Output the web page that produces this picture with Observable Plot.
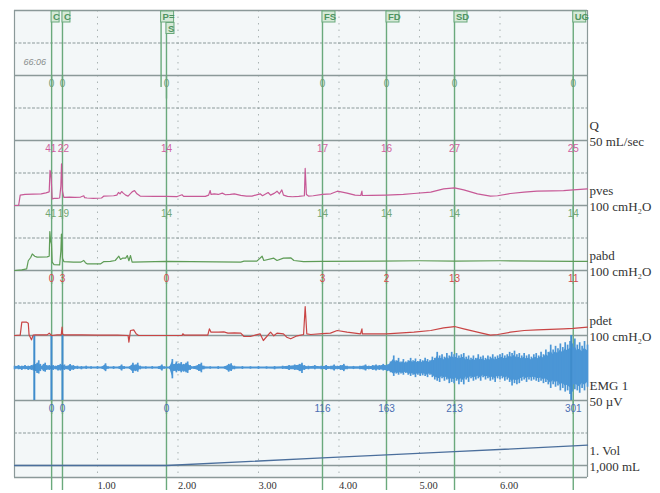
<!DOCTYPE html>
<html><head><meta charset="utf-8">
<script src="https://cdn.jsdelivr.net/npm/d3@7"></script>
<script src="https://cdn.jsdelivr.net/npm/@observablehq/plot@0.6"></script>
<style>body{margin:0;background:#fff} #chart{width:660px;height:493px}</style>
</head><body><div id="chart"></div>
<script>
// ---- event markers ----
const eventNames = ["C", "C", "P=", "S", "FS", "FD", "SD", "UG"];
const eventTimes = [0.43, 0.565, 1.79, 1.857, 3.795, 4.59, 5.435, 6.91];
const markerTimes = [0.43, 0.565, 1.857, 3.795, 4.59, 5.435, 6.91];
const qMarks    = [0, 0, 0, 0, 0, 0, 0];
const pvesMarks = [41, 22, 14, 17, 16, 27, 25];
const pabdMarks = [41, 19, 14, 14, 14, 14, 14];
const pdetMarks = [0, 3, 0, 3, 2, 13, 11];
const volMarks  = [0, 0, 0, 116, 163, 213, 301];
const xTicks = [1, 2, 3, 4, 5, 6];
const clockText = "66:06";

// ---- traces (time in min) ----
const pvesT = [-0.03,0.02,0.04,0.10,0.20,0.30,0.36,0.40,0.41,0.418,0.425,0.437,0.46,0.50,0.53,0.545,0.553,0.565,0.582,0.65,0.72,0.79,0.83,0.84,0.87,0.95,1.05,1.08,1.20,1.24,1.26,1.28,1.30,1.32,1.35,1.38,1.43,1.46,1.49,1.53,1.70,1.857,1.99,2.05,2.07,2.34,2.38,2.40,2.41,2.45,2.50,2.55,2.59,2.65,2.70,2.78,2.85,2.92,3.02,3.05,3.12,3.15,3.20,3.23,3.26,3.29,3.31,3.36,3.42,3.50,3.57,3.58,3.595,3.62,3.68,3.795,3.90,3.98,4.10,4.20,4.27,4.285,4.29,4.40,4.59,4.80,4.93,5.14,5.30,5.435,5.55,5.72,5.88,5.97,6.13,6.30,6.46,6.65,6.79,6.91,7.087];
const pvesV = [0,0,16,17,17.5,18,19.5,21,54,50,41,10,11,11,11.5,30,64,22,12.5,13,12.5,13,15,12,11.5,11,11.5,14.5,15,16,20,18,21.5,19,16,14.5,21,23,18,14.5,14,14,13.8,16.5,14,14,16,23,17,18,17,19,16.5,17,18,15.5,14.5,14.5,18,15,20,16,19,22,18,24,16,14,13.5,14,15,57,17,14.5,15,17,18,22,19,16,15.4,22,15.4,15.5,16,17,18.5,20.5,25.6,27,24,18,14.5,15,18.5,20.5,22,22.5,23,24,25.6];

const pabdT = [-0.03,0.06,0.12,0.14,0.17,0.19,0.22,0.25,0.375,0.40,0.408,0.418,0.428,0.437,0.46,0.53,0.545,0.552,0.565,0.582,0.70,0.79,0.83,0.85,0.87,1.04,1.08,1.16,1.22,1.265,1.286,1.31,1.35,1.37,1.39,1.41,1.43,1.857,2.78,2.82,2.98,3.045,3.066,3.19,3.23,3.31,3.40,3.44,3.56,3.795,4.5,5.0,5.435,6.0,6.5,6.91,7.087];
const pabdV = [0,1,2.5,15,20,25.5,22,20.5,21,22,60,45,41,12.8,9,8.7,30,56,19,13.8,12.8,12.8,15.4,12,10.3,10.3,13.8,14,15.4,22,17,19,19,23,15,23,12.8,14,13,14.4,14.4,22,15.4,19,15.4,19,19.5,15.4,13.8,14,14.5,15,14.5,15,14.5,14,14];

const pdetT = [-0.03,0.04,0.06,0.12,0.14,0.15,0.18,0.20,0.23,0.375,0.40,0.43,0.50,0.55,0.56,0.565,0.58,0.8,1.0,1.25,1.38,1.39,1.41,1.45,1.48,1.51,1.857,2.05,2.06,2.08,2.37,2.39,2.41,2.50,2.57,2.62,2.70,2.78,2.82,2.90,3.02,3.06,3.15,3.19,3.23,3.31,3.35,3.40,3.48,3.56,3.58,3.60,3.65,3.795,3.894,3.978,4.10,4.267,4.285,4.29,4.59,4.93,5.14,5.30,5.435,5.55,5.72,5.88,5.97,6.13,6.30,6.46,6.79,6.91,7.087];
const pdetV = [0,0.5,20.5,20.5,19,1,-6.7,0.5,1,1,3.6,0,1,1,12.8,3,1,1,0.5,0.5,0,-10.3,7.7,8.7,2.6,0,0,0,2.6,0.5,0.5,10.3,5.1,5.1,5.5,3.6,4,3.6,-1.5,-1.5,2.6,-7.7,5.1,-0.5,3.6,2.6,-2.6,-5.1,-0.5,1.5,44.6,2.6,1.5,3,3.6,7.7,5.1,2.6,10.3,2.6,2.6,5.1,7.7,11.8,13.8,10.3,5.1,0.5,1.5,5.1,7.7,8.7,10.3,11,12.8];

const volT = [-0.03, 1.857, 3.795, 4.59, 5.435, 6.91, 7.087];
const volV = [0, 0, 116, 163, 213, 301, 312];

const emgT  = [-0.03,0.02,0.06,0.10,0.14,0.18,0.205,0.225,0.25,0.27,0.29,0.31,0.33,0.35,0.37,0.40,0.45,0.48,0.51,0.54,0.59,0.62,0.66,0.70,0.75,0.80,0.86,0.92,1.00,1.06,1.10,1.13,1.20,1.27,1.30,1.33,1.40,1.44,1.47,1.50,1.53,1.60,1.68,1.76,1.80,1.83,1.90,1.93,1.95,1.98,2.01,2.04,2.07,2.10,2.12,2.15,2.20,2.26,2.29,2.32,2.40,2.50,2.58,2.63,2.66,2.70,2.80,2.90,3.00,3.10,3.20,3.30,3.38,3.45,3.51,3.54,3.57,3.62,3.70,3.78,3.84,3.90,3.94,3.98,4.02,4.06,4.10,4.18,4.26,4.33,4.37,4.42,4.46,4.50,4.55,4.60,4.64,4.68,4.71,4.74,4.77,4.80,4.83,4.86,4.89,4.92,4.95,4.98,5.01,5.04,5.07,5.10,5.13,5.16,5.19,5.22,5.25,5.28,5.31,5.34,5.37,5.40,5.43,5.46,5.49,5.52,5.55,5.58,5.61,5.64,5.67,5.70,5.73,5.76,5.79,5.82,5.85,5.88,5.91,5.94,5.97,6.00,6.03,6.06,6.09,6.12,6.15,6.18,6.21,6.24,6.27,6.30,6.33,6.36,6.39,6.42,6.45,6.48,6.51,6.54,6.57,6.60,6.63,6.66,6.69,6.72,6.75,6.78,6.81,6.84,6.87,6.90,6.93,6.96,6.99,7.02,7.05,7.087];
const emgUp = [1.5,2,1.5,2,1.5,2,2.5,3,4,6,3,1.5,3,4,2,2,2,1.5,2,3,2.5,1.5,3,2,1.5,1.2,1.5,1,1.2,1,3.5,1,1.2,1,2.5,1.2,1,4,2.5,4,1.5,1,1.2,1,2.5,1,1.2,7,3,5,3.5,4.5,3,4,5,2,1.2,3,4,1.5,1,1.2,1,3,3.5,1.5,1.2,1,1.2,1,1.2,1.5,2,2.5,3,4,2,1.5,2,1.5,2,1.5,2.5,1.5,2,3,1.5,1.3,1.5,2.5,1.5,2,2.5,2,3,2.5,5,10,6,8,5,7,5,6,8,6,7.5,5.5,7,6,8,7,6,9,8,13,10,11,9,12,10,13,11,12,10,11,12,9,10,8,10,8,11,9,10,8,10,9,11,9,10,11,12,10,11,13,12,14,11,12,10,12,10,11,9,11,12,10,13,11,15,13,19,15,18,16,20,17,21,19,22,20,24,19,21,18,22,19];
const emgDn = [1.5,1.5,2,1.5,2,2,2.5,3,4.5,5,3,1.5,3,3.5,2,2,2,1.5,2.5,2.5,2,1.5,3,2,1.2,1.5,1.2,1,1,1.2,3,1,1.2,1,2.5,1.2,1.2,4.5,3,3.5,1.5,1,1,1.2,2.5,1,1.2,9,3,4,3,4,3.5,4,4.5,2,1.2,3,4,1.5,1,1.2,1,3.5,3,1.5,1.2,1,1.2,1,1.5,1.2,2,2,3,4.5,2,1.5,1.5,1.5,2,1.5,2.5,1.5,2,3,1.5,1.3,1.5,2.5,1.5,2,2.5,2,2.5,3,4,7,5,6,5,6,4.5,6,7,6,8,6,7,6.5,7,8,6,8,10,11,12,9,11,10,13,12,13,11,14,12,14,10,12,9,11,10,9,11,8,10,9,11,10,12,9,10,9,11,10,12,15,13,14,13,11,10,12,10,11,10,11,12,11,13,12,14,17,14,16,15,19,17,20,19,22,20,18,19,21,17,19,16,17];
const emgSpikeT = [0.215, 0.428, 0.565, 6.885];

// ---- channel descriptions (right-hand labels) ----
const chanNames = ["Q", "pves", "pabd", "pdet", "EMG 1", "1. Vol"];
const chanUnits = ["50 mL/sec", "100 cmH\u2082O", "100 cmH\u2082O", "100 cmH\u2082O", "50 \u00b5V", "1,000 mL"];
const chanBase  = [5, 4, 3, 2, 1, 0];

// ---- layout ----
const W = 660, H = 493, mL = 14, mR = 73, mT = 10, mB = 16;
const xDom = [-0.031, 7.087];
const pxPerUnit = (W - mL - mR) / (xDom[1] - xDom[0]);
const panelPx = 65;
const yDom = [-12 / panelPx, 7];
const emgFull = 54; // µV per panel height

const zip = (T, V) => T.map((t, i) => ({t, v: V[i]}));
const pves = zip(pvesT, pvesV), pabd = zip(pabdT, pabdV), pdet = zip(pdetT, pdetV), vol = zip(volT, volV);
const emg = emgT.map((t, i) => ({t, up: emgUp[i], dn: emgDn[i]}));

// events with staggered rows when boxes overlap
const boxW = s => 3 + 5 * s.length;
const events = [];
eventNames.forEach((name, i) => {
  const t = eventTimes[i];
  let row = 0;
  const prev = events[events.length - 1];
  if (prev && prev.row === 0 && (t - prev.t) * pxPerUnit < boxW(prev.name) + 1) row = 1;
  events.push({name, t, row});
});

function labelData(vals) {
  const w = vals.map(v => String(v).length * 5.6);
  const pos = markerTimes.map(t => t * pxPerUnit);
  const sh = vals.map(() => 0);
  for (let i = 0; i < vals.length - 1; i++) {
    const gap = (pos[i + 1] - w[i + 1] / 2) - (pos[i] + w[i] / 2);
    if (gap < 1.5) { const s = (1.5 - gap) / 2; sh[i] -= s; sh[i + 1] += s; }
  }
  return markerTimes.map((t, i) => ({t: t + sh[i] / pxPerUnit, v: vals[i]}));
}

const green = "#6aa97c";
const gridC = "#8b9999";
const emgC = "#4b96d6";
const sans = "Liberation Sans Narrow, Liberation Sans, Arial, sans-serif";

function markerLabels(vals, top, color) {
  return Plot.text(labelData(vals), {x: "t", y: () => top, text: d => String(d.v), dy: 8.5, fill: color, fontSize: 10, fontFamily: sans, lineAnchor: "middle"});
}
function markerLines(y1, y2, inset) {
  return Plot.ruleX(markerTimes, {x: d => d, y1: () => y1, y2: () => y2, insetTop: inset, stroke: green, strokeWidth: 1.4});
}

const chart = Plot.plot({
  width: W, height: H,
  marginLeft: mL, marginRight: mR, marginTop: mT, marginBottom: mB,
  x: {domain: xDom, axis: null},
  y: {domain: yDom, axis: null},
  style: {fontFamily: "Liberation Serif, serif", background: "#fff", overflow: "visible"},
  marks: [
    Plot.frame({fill: "#f3f7f8", stroke: null}),
    // vertical dotted grid
    Plot.ruleX(xTicks, {x: d => d, stroke: "#aab4b4", strokeDasharray: "1.5,5", strokeWidth: 1}),
    // panel boundaries & mid lines
    Plot.ruleY([yDom[0], 0, 1, 2, 3, 4, 5, 6, 7], {y: d => d, stroke: gridC, strokeWidth: 1.3}),
    Plot.ruleY([0.5, 2.5, 3.5, 4.5, 5.5, 6.5], {y: d => d, stroke: gridC, strokeWidth: 1.1, strokeDasharray: "3,1.5"}),
    Plot.ruleX([xDom[0], xDom[1]], {x: d => d, stroke: gridC, strokeWidth: 1.2}),

    // event panel
    Plot.ruleX(events.filter(d => d.row === 0), {x: "t", y1: () => 6, y2: () => 7, insetTop: 12, stroke: green, strokeWidth: 1.4}),
    Plot.ruleX(events.filter(d => d.row === 1), {x: "t", y1: () => 6, y2: () => 7, insetTop: 23.5, stroke: green, strokeWidth: 1.4}),
    Plot.rect(events, {x1: "t", x2: d => d.t + boxW(d.name) / pxPerUnit,
      y1: d => 7 - (12 + d.row * 11.5) / panelPx, y2: d => 7 - (1 + d.row * 11.5) / panelPx,
      fill: "#d5e9d8", stroke: "#6aa97c", strokeWidth: 1}),
    Plot.text(events, {x: d => d.t + 1.5 / pxPerUnit, y: d => 7 - (6.5 + d.row * 11.5) / panelPx, text: "name",
      textAnchor: "start", fill: "#4f9460", fontSize: 9.5, fontFamily: sans, fontWeight: "bold"}),
    Plot.text([clockText], {frameAnchor: "left", y: () => 6.2, text: d => d, dx: 9, fill: "#8a8f8f", fontSize: 9, fontStyle: "italic", fontFamily: sans, textAnchor: "start"}),

    // marker lines per panel
    markerLines(5, 6, 13),
    markerLines(4, 5, 14),
    markerLines(3, 4, 14),
    markerLines(1, 3, 14),
    markerLines(yDom[0], 1, 13),

    // EMG: solid core plus individual strokes out to the envelope
    Plot.areaY(emg, {x: "t", y1: d => 1.5 - 0.75 * d.dn / emgFull, y2: d => 1.5 + 0.75 * d.up / emgFull, fill: emgC}),
    Plot.ruleX(emg, {x: "t", y1: d => 1.5 - d.dn / emgFull, y2: d => 1.5 + d.up / emgFull, stroke: emgC, strokeWidth: 1.7}),
    Plot.ruleX(emgSpikeT, {x: d => d, y1: () => 1, y2: () => 2, stroke: "#3f8ccc", strokeWidth: 2}),

    // pressure traces & volume
    Plot.line(pves, {x: "t", y: d => 4 + d.v / 100, stroke: "#c75a97", strokeWidth: 1.2}),
    Plot.line(pabd, {x: "t", y: d => 3 + d.v / 100, stroke: "#5e9c56", strokeWidth: 1.2}),
    Plot.line(pdet, {x: "t", y: d => 2 + d.v / 100, stroke: "#c94545", strokeWidth: 1.2}),
    Plot.line(vol, {x: "t", y: d => d.v / 1000, stroke: "#4b6f9c", strokeWidth: 1.3}),

    // marker value labels
    markerLabels(qMarks, 6, "#6d9f78"),
    markerLabels(pvesMarks, 5, "#d0609e"),
    markerLabels(pabdMarks, 4, "#74a774"),
    markerLabels(pdetMarks, 3, "#d24b4b"),
    markerLabels(volMarks, 1, "#4a6eb2"),

    // right-hand channel labels
    Plot.text(chanNames, {frameAnchor: "right", y: (d, i) => chanBase[i], text: d => d, dx: 2, dy: -15, textAnchor: "start", fill: "#333", fontSize: 13}),
    Plot.text(chanUnits, {frameAnchor: "right", y: (d, i) => chanBase[i], text: d => d, dx: 2, dy: 1, textAnchor: "start", fill: "#333", fontSize: 13}),

    // time axis labels
    Plot.text(xTicks, {x: d => d, frameAnchor: "bottom", text: d => d.toFixed(2), dy: 8.5, textAnchor: "start", lineAnchor: "middle", fill: "#333", fontSize: 10.5})
  ]
});
document.getElementById("chart").append(chart);
</script>
</body></html>
